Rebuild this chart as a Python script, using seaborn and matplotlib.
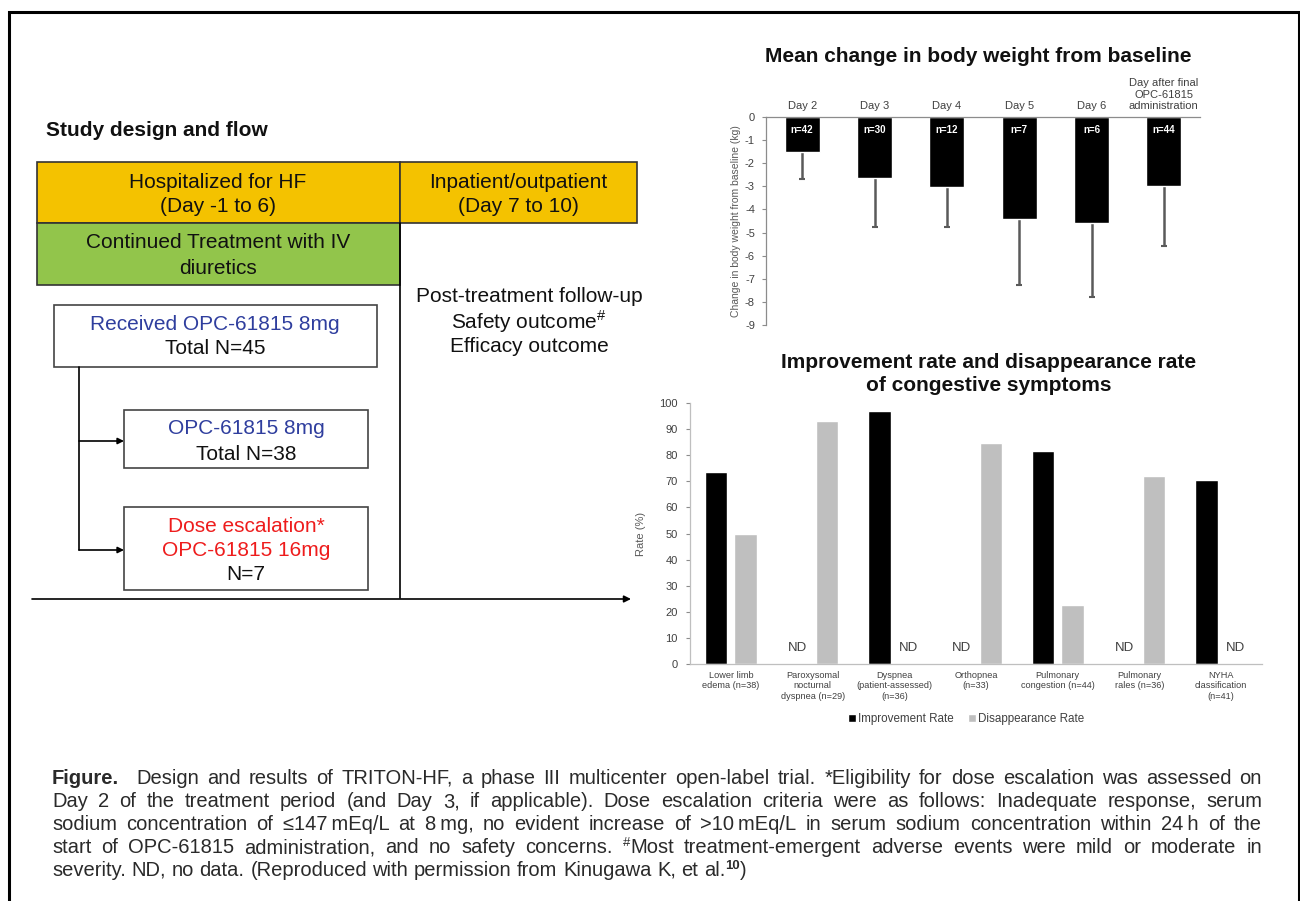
import numpy as np
import pandas as pd
import matplotlib
matplotlib.use("Agg")
import matplotlib.pyplot as plt
from matplotlib.patches import Rectangle
import seaborn as sns

# body weight change (kg) by day
days = ["Day 2", "Day 3", "Day 4", "Day 5", "Day 6",
        "Day after final\nOPC-61815\nadministration"]
weight_change = [-1.5, -2.63, -3.03, -4.42, -4.58, -3.0]
weight_sd = [1.17, 2.15, 1.72, 2.85, 3.2, 2.59]
n_per_day = [42, 30, 12, 7, 6, 44]

# congestive symptom rates (%), NaN = no data
symptoms = ["Lower limb\nedema (n=38)", "Paroxysomal\nnocturnal\ndyspnea (n=29)",
            "Dyspnea\n(patient-assessed)\n(n=36)", "Orthopnea\n(n=33)",
            "Pulmonary\ncongestion (n=44)", "Pulmonary\nrales (n=36)",
            "NYHA\nclassification\n(n=41)"]
improvement_rate = [73.6, np.nan, 97.1, np.nan, 81.7, np.nan, 70.6]
disappearance_rate = [49.9, 93.0, np.nan, 84.7, 22.6, 72.2, np.nan]
rate_types = ["Improvement Rate", "Disappearance Rate"]

sns.set_style("white")
plt.rcParams["font.family"] = ["Liberation Sans", "DejaVu Sans"]
plt.rcParams["mathtext.fontset"] = "custom"
plt.rcParams["mathtext.rm"] = "Liberation Sans"
plt.rcParams["mathtext.bf"] = "Liberation Sans:bold"
plt.rcParams["axes.unicode_minus"] = False

W, H = 1300, 901
fig = plt.figure(figsize=(13, 9.01), dpi=100)
renderer = fig.canvas.get_renderer()


def rect(x0, y0, x1, y1):
    # pixel box (top-left origin) -> figure fraction
    return [x0 / W, 1 - y1 / H, (x1 - x0) / W, (y1 - y0) / H]


# ---- overlay for diagram, frame and caption (pixel coordinates)
ov = fig.add_axes([0, 0, 1, 1])
ov.set_xlim(0, W)
ov.set_ylim(H, 0)
ov.axis("off")

ov.plot([9, 9, 1299, 1299], [H, 12, 12, H], color="black", lw=2.2,
        solid_joinstyle="miter")

ov.text(46, 131, "Study design and flow", fontsize=15, fontweight="bold",
        va="center", ha="left", color="#111111")

yellow = "#F4C200"
green = "#92C54B"
blue = "#2F3E9E"
red = "#EE1C1C"
fs = 15


def label(x, y, s, color="#111111"):
    ov.text(x, y, s, color=color, ha="center", va="center", fontsize=fs)


ov.add_patch(Rectangle((37, 162), 363, 61, fc=yellow, ec="#333333", lw=1.2))
ov.add_patch(Rectangle((400, 162), 237, 61, fc=yellow, ec="#333333", lw=1.2))
ov.add_patch(Rectangle((37, 223), 363, 62, fc=green, ec="#333333", lw=1.2))
label(218, 182, "Hospitalized for HF")
label(218, 206, "(Day -1 to 6)")
label(518, 182, "Inpatient/outpatient")
label(518, 206, "(Day 7 to 10)")
label(218, 243, "Continued Treatment with IV")
label(218, 268, "diuretics")
ov.plot([400, 400], [223, 598], color="black", lw=1.2)

ov.add_patch(Rectangle((54, 305), 323, 62, fc="white", ec="#444444", lw=1.2))
label(215, 324, "Received OPC-61815 8mg", blue)
label(215, 349, "Total N=45")

ov.add_patch(Rectangle((124, 410), 244, 58, fc="white", ec="#444444", lw=1.2))
label(246, 429, "OPC-61815 8mg", blue)
label(246, 455, "Total N=38")

ov.add_patch(Rectangle((124, 507), 244, 83, fc="white", ec="#444444", lw=1.2))
label(246, 526, "Dose escalation*", red)
label(246, 550, "OPC-61815 16mg", red)
label(246, 574, "N=7")

ov.plot([79, 79], [367, 550], color="black", lw=1.2)
for yy in (441, 550):
    ov.annotate("", xy=(124, yy), xytext=(79, yy),
                arrowprops=dict(arrowstyle="-|>", color="black", lw=1.2,
                                mutation_scale=9, shrinkA=0, shrinkB=0))
ov.annotate("", xy=(631, 599), xytext=(32, 599),
            arrowprops=dict(arrowstyle="-|>", color="black", lw=1.2,
                            mutation_scale=10, shrinkA=0, shrinkB=0))

label(529, 297, "Post-treatment follow-up")
label(529, 322, r"Safety outcome$^{\#}$")
label(529, 347, "Efficacy outcome")

# ---- caption, justified word by word; "^" marks a superscript piece
cap_col = "#2a2a2a"
cap_fs = 14.5
cap_base = [784, 807, 830, 853, 876]


def seg_width(s, size, weight="normal"):
    t = ov.text(0, 0, s, fontsize=size, fontweight=weight)
    w = t.get_window_extent(renderer).width
    t.remove()
    return w


space_w = seg_width("a a", cap_fs) - seg_width("aa", cap_fs)


def word_parts(word):
    # "^#Most" -> superscript "#" then "Most"; "al.^10)" -> "al.", sup "10", ")"
    if word.startswith("^#"):
        return [("#", True, "normal"), (word[2:], False, "normal")]
    if "^10" in word:
        a, b = word.split("^10")
        return [(a, False, "normal"), ("10", True, "bold"), (b, False, "normal")]
    return [(word, False, "normal")]


def justify(line, x0, x1, y, last=False):
    words = [word_parts(w) for w in line.split(" ")]
    widths = []
    for parts in words:
        widths.append(sum(seg_width(s, cap_fs * (0.65 if sup else 1), wt)
                          for s, sup, wt in parts if s))
    gap = space_w if last else (x1 - x0 - sum(widths)) / (len(words) - 1)
    x = x0
    for parts, w in zip(words, widths):
        xx = x
        for s, sup, wt in parts:
            if not s:
                continue
            size = cap_fs * (0.65 if sup else 1)
            ov.text(xx, y - (7 if sup else 0), s, fontsize=size, fontweight=wt,
                    va="baseline", ha="left", color=cap_col)
            xx += seg_width(s, size, wt)
        x += w + gap


ov.text(52, cap_base[0], "Figure.", fontsize=cap_fs, fontweight="bold",
        va="baseline", color=cap_col)
cap_lines = [
    "Design and results of TRITON-HF, a phase III multicenter open-label trial. "
    "*Eligibility for dose escalation was assessed on",
    "Day 2 of the treatment period (and Day 3, if applicable). Dose escalation criteria were as follows: Inadequate response, serum",
    "sodium concentration of \u2264147\u2009mEq/L at 8\u2009mg, no evident increase of >10\u2009mEq/L in serum sodium concentration within 24\u2009h of the",
    "start of OPC-61815 administration, and no safety concerns. ^#Most treatment-emergent adverse events were mild or moderate in",
    "severity. ND, no data. (Reproduced with permission from Kinugawa K, et al.^10)",
]
justify(cap_lines[0], 136, 1262, cap_base[0])
for k in range(1, 5):
    justify(cap_lines[k], 52, 1262, cap_base[k], last=(k == 4))

# ---- top chart: body weight change
axis_col = "#8c8c8c"
tick_col = "#404040"
ax1 = fig.add_axes(rect(766, 117, 1200, 325))
sns.barplot(x=days, y=weight_change, color="black", width=0.48, ax=ax1,
            saturation=1, errorbar=None, zorder=2)
xpos = np.arange(len(days))
low = np.array(weight_change) - np.array(weight_sd)
ax1.vlines(xpos, weight_change, low, color="#5a5a5a", lw=1.8, zorder=1)
ax1.scatter(xpos, low, marker="_", s=20, color="#5a5a5a", linewidths=1.5, zorder=1)
for i, n in enumerate(n_per_day):
    ax1.text(i, -0.55, f"n={n}", color="white", fontweight="bold", fontsize=7,
             ha="center", va="center")
ax1.set_ylim(-9, 0)
ax1.set_xlim(-0.5, len(days) - 0.5)
ax1.set_yticks(range(-9, 1))
ax1.xaxis.tick_top()
ax1.tick_params(axis="x", length=0, pad=4, labelsize=8, labelcolor=tick_col)
ax1.tick_params(axis="y", length=3, width=0.8, color=axis_col, labelsize=8,
                labelcolor=tick_col, pad=5, left=True)
for s in ("right", "bottom"):
    ax1.spines[s].set_visible(False)
for s in ("top", "left"):
    ax1.spines[s].set_color(axis_col)
    ax1.spines[s].set_linewidth(0.9)
ax1.set_ylabel("Change in body weight from baseline (kg)", fontsize=7.5,
               color="#595959", labelpad=3)
fig.text(978 / W, 1 - 57 / H, "Mean change in body weight from baseline",
         ha="center", va="center", fontsize=15, fontweight="bold", color="#111111")

# ---- bottom chart: improvement / disappearance rates
rates = pd.DataFrame({
    "symptom": symptoms * 2,
    "type": [rate_types[0]] * len(symptoms) + [rate_types[1]] * len(symptoms),
    "rate": improvement_rate + disappearance_rate,
})
ax2 = fig.add_axes(rect(690, 403, 1262, 664))
sns.barplot(data=rates.dropna(), x="symptom", y="rate", hue="type",
            order=symptoms, hue_order=rate_types,
            palette=["black", "#bfbfbf"], width=0.72, gap=0.24,
            saturation=1, errorbar=None, ax=ax2)
for i in range(len(symptoms)):
    for off, vals in ((-0.18, improvement_rate), (0.18, disappearance_rate)):
        if np.isnan(vals[i]):
            ax2.text(i + off, 6, "ND", ha="center", va="center", fontsize=9.5,
                     color=tick_col)
ax2.set_ylim(0, 100)
ax2.set_xlim(-0.5, len(symptoms) - 0.5)
ax2.set_yticks(range(0, 101, 10))
ax2.set_xlabel("")
ax2.set_ylabel("Rate (%)", fontsize=8, color="#595959", labelpad=9)
ax2.tick_params(axis="x", length=0, pad=5, labelsize=6.6, labelcolor=tick_col)
ax2.tick_params(axis="y", length=3, width=0.8, color=axis_col, labelsize=8,
                labelcolor=tick_col, pad=6, left=True)
for s in ("right", "top"):
    ax2.spines[s].set_visible(False)
for s in ("bottom", "left"):
    ax2.spines[s].set_color("#bfbfbf")
    ax2.spines[s].set_linewidth(0.9)
ax2.legend(loc="center", bbox_to_anchor=(966 / W, 1 - 719 / H),
           bbox_transform=fig.transFigure, ncol=2, frameon=False, fontsize=8.4,
           handlelength=0.7, handleheight=0.7, handletextpad=0.2,
           columnspacing=1.2, labelcolor=tick_col)
fig.text(989 / W, 1 - 374 / H,
         "Improvement rate and disappearance rate\nof congestive symptoms",
         ha="center", va="center", fontsize=15, fontweight="bold",
         linespacing=1.3, color="#111111")

fig.savefig("out.png", dpi=100)
